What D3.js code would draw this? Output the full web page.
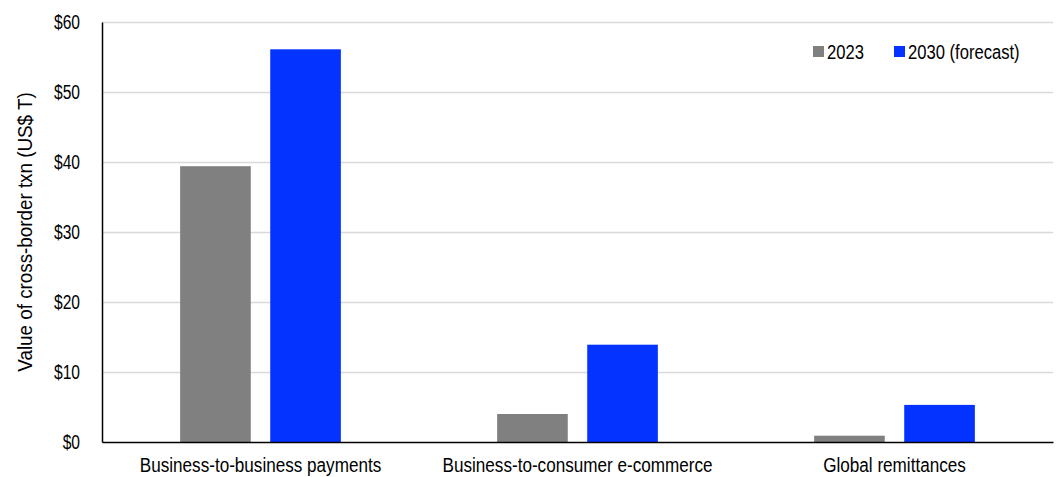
<!DOCTYPE html>
<html>
<head>
<meta charset="utf-8">
<script src="https://cdn.jsdelivr.net/npm/d3@7"></script>
<style>
	body { margin: 0; background: #fff; }
	svg text { font-family: "Liberation Sans", Arial, sans-serif; fill: #000; }
</style>
</head>
<body>
<div id="demo"></div>
<script>
// categories and series
var categories = ['Business-to-business payments', 'Business-to-consumer e-commerce', 'Global remittances'];
var seriesNames = ['2023', '2030 (forecast)'];
var values2023 = [39.4, 4.0, 0.9];
var values2030 = [56.1, 13.9, 5.3];
var yTicks = [0, 10, 20, 30, 40, 50, 60];
var seriesColors = ['#808080', '#0433ff'];

var width = 1057, height = 477;
var margin = {top: 22, right: 4, bottom: 35, left: 102};

// narrow the text (the original uses a condensed face)
function squeeze(sel, f) {
	sel.each(function() {
		var w = this.getComputedTextLength();
		d3.select(this)
			.attr('textLength', w * f)
			.attr('lengthAdjust', 'spacingAndGlyphs');
	});
}

var svg = d3.select('#demo').append('svg')
	.attr('width', width)
	.attr('height', height);

var innerW = width - margin.left - margin.right;
var innerH = height - margin.top - margin.bottom;

var g = svg.append('g')
	.attr('transform', 'translate(' + margin.left + ',' + margin.top + ')');

// scales
var y = d3.scaleLinear().domain([0, 60]).range([innerH, 0]);
var x0 = d3.scaleBand().domain(categories).range([0, innerW])
	.paddingInner(0.493).paddingOuter(0.2465);
var x1 = d3.scaleBand().domain(seriesNames).range([0, x0.bandwidth()])
	.paddingInner(0.216).paddingOuter(0);

// gridlines
g.selectAll('.grid')
	.data(yTicks.filter(function(d) { return d > 0; }))
	.enter()
	.append('line')
	.attr('class', 'grid')
	.attr('x1', 0)
	.attr('x2', innerW)
	.attr('y1', function(d) { return Math.round(y(d)) + 0.5; })
	.attr('y2', function(d) { return Math.round(y(d)) + 0.5; })
	.attr('stroke', '#d9d9d9')
	.attr('stroke-width', 1.5);

// bars
var rows = categories.map(function(c, i) {
	return {cat: c, vals: [values2023[i], values2030[i]]};
});

var group1 = g.selectAll('.group1')
	.data(rows)
	.enter()
	.append('g')
	.attr('transform', function(d) { return 'translate(' + x0(d.cat) + ',0)'; });

group1.selectAll('rect')
	.data(function(d) {
		return d.vals.map(function(v, i) { return {name: seriesNames[i], value: v, idx: i}; });
	})
	.enter()
	.append('rect')
	.attr('x', function(d) { return x1(d.name); })
	.attr('y', function(d) { return y(d.value); })
	.attr('width', x1.bandwidth())
	.attr('height', function(d) { return innerH - y(d.value); })
	.attr('fill', function(d) { return seriesColors[d.idx]; });

// y axis
var yAxis = g.append('g')
	.call(d3.axisLeft(y).tickValues(yTicks).tickSize(0).tickPadding(22)
		.tickFormat(function(d) { return '$' + d; }));
yAxis.select('.domain').attr('stroke', '#000').attr('stroke-width', 1.5);
yAxis.selectAll('text').style('font-size', '20px').call(squeeze, 0.78);

// x axis
var xAxis = g.append('g')
	.attr('transform', 'translate(0,' + innerH + ')')
	.call(d3.axisBottom(x0).tickSize(0).tickPadding(16));
xAxis.select('.domain').attr('stroke', '#000').attr('stroke-width', 1.5);
xAxis.selectAll('text').style('font-size', '20px').call(squeeze, 0.855);

// y title
svg.append('text')
	.attr('transform', 'translate(32,' + (margin.top + innerH / 2) + ') rotate(-90)')
	.attr('text-anchor', 'middle')
	.style('font-size', '20px')
	.text('Value of cross-border txn (US$ T)')
	.call(squeeze, 0.94);

// legend
var legendX = [813, 894];
var legend = svg.selectAll('.legend')
	.data(seriesNames)
	.enter()
	.append('g')
	.attr('transform', function(d, i) { return 'translate(' + legendX[i] + ',46)'; });
legend.append('rect')
	.attr('width', 11)
	.attr('height', 11)
	.attr('fill', function(d, i) { return seriesColors[i]; });
legend.append('text')
	.attr('x', 14)
	.attr('y', 6)
	.attr('dy', '0.35em')
	.style('font-size', '20px')
	.text(function(d) { return d; })
	.call(squeeze, 0.83);
</script>
</body>
</html>
